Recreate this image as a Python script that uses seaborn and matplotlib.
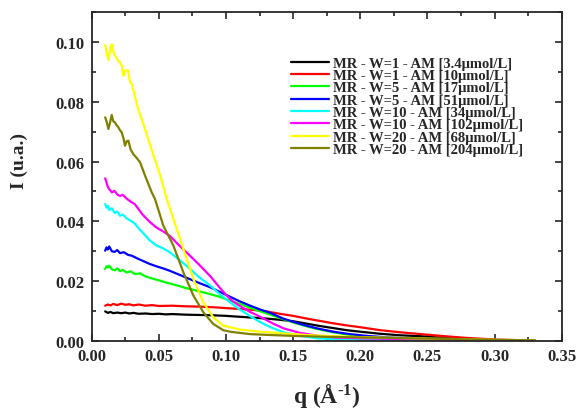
import pandas as pd
import matplotlib
matplotlib.use("Agg")
import matplotlib.pyplot as plt
import seaborn as sns
from matplotlib.ticker import MultipleLocator

# 曲線資料
q_black = [0.010, 0.012, 0.014, 0.016, 0.019, 0.022, 0.025, 0.028, 0.031, 0.035, 0.040, 0.045,
           0.050, 0.055, 0.060, 0.070, 0.080, 0.090, 0.100, 0.110, 0.120, 0.130, 0.140, 0.150,
           0.160, 0.170, 0.180, 0.190, 0.200, 0.215, 0.230, 0.245, 0.260, 0.280, 0.300, 0.330]
i_black = [0.0099, 0.0094, 0.0097, 0.0093, 0.0095, 0.0093, 0.0095, 0.0092, 0.0094, 0.0091, 0.0092, 0.0090,
           0.0091, 0.0089, 0.0090, 0.0088, 0.0087, 0.0086, 0.0084, 0.0081, 0.0078, 0.0075, 0.0071, 0.0066,
           0.0058, 0.0050, 0.0043, 0.0036, 0.0031, 0.0024, 0.0019, 0.0016, 0.0011, 0.0006, 0.0003, 0.0001]

q_red = [0.010, 0.012, 0.014, 0.016, 0.019, 0.022, 0.025, 0.028, 0.031, 0.035, 0.040, 0.045,
         0.050, 0.060, 0.070, 0.080, 0.090, 0.100, 0.110, 0.120, 0.130, 0.140, 0.150, 0.160,
         0.170, 0.180, 0.190, 0.200, 0.215, 0.230, 0.245, 0.260, 0.280, 0.300, 0.330]
i_red = [0.0118, 0.0122, 0.0119, 0.0124, 0.0120, 0.0125, 0.0121, 0.0123, 0.0119, 0.0122, 0.0118, 0.0120,
         0.0117, 0.0118, 0.0116, 0.0115, 0.0113, 0.0110, 0.0107, 0.0104, 0.0099, 0.0091, 0.0084, 0.0075,
         0.0067, 0.0059, 0.0052, 0.0046, 0.0036, 0.0029, 0.0023, 0.0017, 0.0010, 0.0005, 0.0001]

q_green = [0.010, 0.011, 0.012, 0.013, 0.015, 0.017, 0.019, 0.021, 0.023, 0.026, 0.029, 0.032,
           0.036, 0.040, 0.045, 0.050, 0.055, 0.060, 0.065, 0.070, 0.075, 0.080, 0.088, 0.095,
           0.103, 0.110, 0.118, 0.125, 0.133, 0.142, 0.150, 0.160, 0.170, 0.180, 0.192, 0.210,
           0.230, 0.260, 0.300, 0.330]
i_green = [0.0241, 0.0250, 0.0246, 0.0252, 0.0240, 0.0236, 0.0243, 0.0233, 0.0238, 0.0229, 0.0233, 0.0224,
           0.0226, 0.0216, 0.0209, 0.0203, 0.0196, 0.0190, 0.0184, 0.0177, 0.0172, 0.0166, 0.0157, 0.0148,
           0.0135, 0.0124, 0.0111, 0.0100, 0.0088, 0.0074, 0.0062, 0.0049, 0.0038, 0.0029, 0.0020, 0.0012,
           0.0008, 0.0005, 0.0002, 0.0001]

q_blue = [0.010, 0.011, 0.012, 0.013, 0.015, 0.017, 0.019, 0.021, 0.024, 0.027, 0.030, 0.034,
          0.038, 0.043, 0.048, 0.053, 0.058, 0.065, 0.073, 0.080, 0.088, 0.095, 0.103, 0.110,
          0.118, 0.125, 0.133, 0.142, 0.150, 0.160, 0.168, 0.180, 0.192, 0.205, 0.217, 0.235,
          0.260, 0.300, 0.330]
i_blue = [0.0302, 0.0313, 0.0306, 0.0316, 0.0300, 0.0298, 0.0304, 0.0294, 0.0297, 0.0288, 0.0285, 0.0276,
          0.0268, 0.0258, 0.0250, 0.0243, 0.0235, 0.0222, 0.0207, 0.0194, 0.0180, 0.0165, 0.0148, 0.0133,
          0.0118, 0.0106, 0.0094, 0.0076, 0.0064, 0.0051, 0.0042, 0.0031, 0.0023, 0.0017, 0.0013, 0.0009,
          0.0005, 0.0002, 0.0001]

q_cyan = [0.010, 0.011, 0.012, 0.013, 0.015, 0.017, 0.019, 0.021, 0.023, 0.026, 0.029, 0.032,
          0.035, 0.038, 0.043, 0.048, 0.053, 0.058, 0.065, 0.073, 0.080, 0.088, 0.095, 0.103,
          0.110, 0.118, 0.125, 0.133, 0.143, 0.155, 0.168, 0.180, 0.200, 0.250, 0.330]
i_cyan = [0.0458, 0.0446, 0.0452, 0.0438, 0.0444, 0.0428, 0.0433, 0.0419, 0.0423, 0.0410, 0.0402, 0.0393,
          0.0376, 0.0362, 0.0337, 0.0320, 0.0310, 0.0297, 0.0272, 0.0242, 0.0213, 0.0186, 0.0158, 0.0129,
          0.0106, 0.0083, 0.0064, 0.0046, 0.0029, 0.0017, 0.0009, 0.0006, 0.0004, 0.0002, 0.0001]

q_magenta = [0.010, 0.011, 0.012, 0.013, 0.015, 0.017, 0.019, 0.021, 0.023, 0.026, 0.029, 0.032,
             0.035, 0.038, 0.043, 0.048, 0.053, 0.058, 0.065, 0.073, 0.080, 0.088, 0.095, 0.100,
             0.105, 0.110, 0.118, 0.125, 0.130, 0.136, 0.143, 0.155, 0.168, 0.180, 0.200, 0.250,
             0.300, 0.330]
i_magenta = [0.0544, 0.0530, 0.0515, 0.0508, 0.0497, 0.0502, 0.0490, 0.0485, 0.0489, 0.0476, 0.0466, 0.0458,
             0.0440, 0.0422, 0.0399, 0.0380, 0.0367, 0.0352, 0.0320, 0.0286, 0.0255, 0.0218, 0.0180, 0.0154,
             0.0133, 0.0118, 0.0097, 0.0082, 0.0070, 0.0056, 0.0042, 0.0027, 0.0018, 0.0012, 0.0009, 0.0005,
             0.0002, 0.0001]

q_yellow = [0.010, 0.0115, 0.0125, 0.014, 0.015, 0.0165, 0.018, 0.0195, 0.021, 0.0225, 0.0235, 0.025,
            0.027, 0.0285, 0.030, 0.032, 0.0345, 0.038, 0.042, 0.046, 0.051, 0.0558, 0.0608, 0.0682,
            0.0757, 0.0831, 0.0905, 0.098, 0.1105, 0.1254, 0.140, 0.160, 0.180, 0.200, 0.250, 0.300, 0.330]
i_yellow = [0.0990, 0.0955, 0.0940, 0.0985, 0.0993, 0.0960, 0.0950, 0.0938, 0.0932, 0.0918, 0.0887, 0.0905,
            0.0904, 0.0865, 0.0858, 0.0820, 0.0776, 0.0731, 0.0676, 0.0620, 0.0553, 0.0475, 0.0408, 0.0308,
            0.0207, 0.0129, 0.0079, 0.0051, 0.0038, 0.0031, 0.0026, 0.0020, 0.0016, 0.0013, 0.0008, 0.0004, 0.0002]

q_olive = [0.010, 0.011, 0.0124, 0.0135, 0.0149, 0.016, 0.0173, 0.0185, 0.0198, 0.021, 0.0223, 0.0235,
           0.0248, 0.026, 0.0273, 0.029, 0.031, 0.0335, 0.036, 0.0397, 0.0447, 0.0471, 0.0533, 0.0608,
           0.0682, 0.0757, 0.0831, 0.0905, 0.098, 0.103, 0.1179, 0.1328, 0.150, 0.175, 0.200, 0.250,
           0.300, 0.330]
i_olive = [0.0748, 0.0735, 0.0709, 0.0728, 0.0756, 0.0735, 0.0731, 0.0722, 0.0715, 0.0705, 0.0698, 0.0680,
           0.0653, 0.0668, 0.0670, 0.0640, 0.0625, 0.0612, 0.0598, 0.0553, 0.0497, 0.0475, 0.0386, 0.0319,
           0.0230, 0.0152, 0.0096, 0.0057, 0.0036, 0.0031, 0.0023, 0.0020, 0.0017, 0.0014, 0.0012, 0.0008,
           0.0004, 0.0002]

labels = ["MR - W=1 - AM [3.4μmol/L]", "MR - W=1 - AM [10μmol/L]",
          "MR - W=5 - AM [17μmol/L]", "MR - W=5 - AM [51μmol/L]",
          "MR - W=10 - AM [34μmol/L]", "MR - W=10 - AM [102μmol/L]",
          "MR - W=20 - AM [68μmol/L]", "MR - W=20 - AM [204μmol/L]"]
colors = ["#000000", "#FF0000", "#00FF00", "#0000FF", "#00FFFF", "#FF00FF", "#FFFF00", "#808000"]

series = [(q_black, i_black), (q_red, i_red), (q_green, i_green), (q_blue, i_blue),
          (q_cyan, i_cyan), (q_magenta, i_magenta), (q_yellow, i_yellow), (q_olive, i_olive)]

frames = []
for lab, (qs, ys) in zip(labels, series):
    frames.append(pd.DataFrame({"q": qs, "I": ys, "sample": lab}))
df = pd.concat(frames, ignore_index=True)

# 樣式設定
sns.set_style("ticks")
plt.rcParams['font.family'] = ['Liberation Serif', 'DejaVu Serif']
plt.rcParams['font.weight'] = 'bold'
plt.rcParams['mathtext.fontset'] = 'custom'
plt.rcParams['mathtext.rm'] = 'Liberation Serif:bold'
plt.rcParams['mathtext.bf'] = 'Liberation Serif:bold'
plt.rcParams['mathtext.default'] = 'bf'

fig = plt.figure(figsize=(5.78, 4.10), dpi=100)
ax = fig.add_axes([0.1587, 0.1659, 0.8131, 0.8021])

sns.lineplot(data=df, x="q", y="I", hue="sample", hue_order=labels,
             palette=dict(zip(labels, colors)), estimator=None, sort=False,
             linewidth=1.6, ax=ax)

ax.set_xlim(0, 0.35)
ax.set_ylim(0, 0.11)
ax.xaxis.set_major_locator(MultipleLocator(0.05))
ax.xaxis.set_minor_locator(MultipleLocator(0.025))
ax.yaxis.set_major_locator(MultipleLocator(0.02))
ax.yaxis.set_minor_locator(MultipleLocator(0.01))
ax.xaxis.set_major_formatter(matplotlib.ticker.FormatStrFormatter('%.2f'))
ax.yaxis.set_major_formatter(matplotlib.ticker.FormatStrFormatter('%.2f'))
ax.tick_params(which='both', direction='in', top=True, right=True, width=1.2)
ax.tick_params(which='major', length=5, labelsize=12, pad=5)
ax.tick_params(which='minor', length=3)
for lab in ax.get_xticklabels() + ax.get_yticklabels():
    lab.set_fontweight('bold')
for sp in ax.spines.values():
    sp.set_linewidth(1.3)
    sp.set_visible(True)

ax.set_xlabel("q (Å$^{\\text{-1}}$)", fontsize=17, fontweight='bold', labelpad=12)
ax.set_ylabel("I (u.a.)", fontsize=14, fontweight='bold')
ax.yaxis.set_label_coords(-0.135, 0.55)

ax.legend(loc='upper left', bbox_to_anchor=(0.396, 0.905), frameon=False,
          prop={'size': 10.5, 'weight': 'bold'}, labelspacing=-0.06,
          handlelength=2.6, handletextpad=0.3)

fig.savefig("out.png", dpi=100)
